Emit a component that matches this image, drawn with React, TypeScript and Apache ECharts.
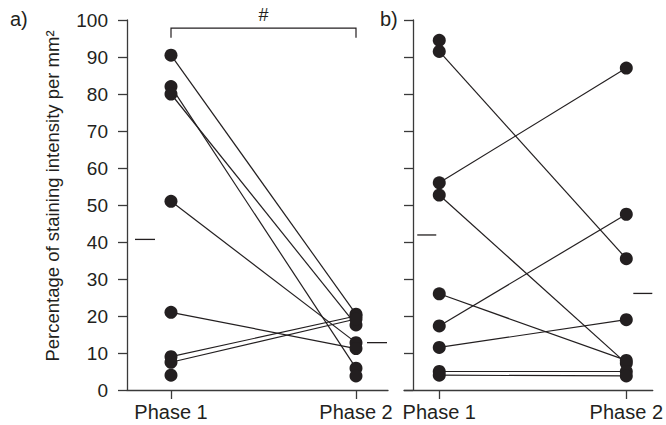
import React, { useEffect, useRef } from 'react';
import * as echarts from 'echarts';

// ---- data ----
const phases = ['Phase 1', 'Phase 2'];
// panel a) : values at Phase 1 and Phase 2 (null = no partner)
const aPhase1 = [90.5, 82, 80, 51, 21, 9, 7.5, 4, null];
const aPhase2 = [20.5, 5.9, 17.6, 12.8, 11.2, 20, 19.2, null, 3.8];
const aMeans = [40.7, 12.8];
// panel b)
const bPhase1 = [94.5, 91.5, 56, 52.7, 26, 17.3, 11.5, 5, 4];
const bPhase2 = [null, 35.5, 87, 7.2, 8.0, 47.5, 19, 5, 3.8];
const bMeans = [41.9, 26.1];
// significance bracket between phases in panel a
const bracketTop = 97.8;
const bracketFoot = 95.2;
const bracketLabel = '#';
const yTicks = { min: 0, max: 100, interval: 10 };
const yTitle = 'Percentage of staining intensity per mm²';

// ---- style ----
const INK = '#231f20';
const AXIS = '#3a3a3a';
const FONT = "'Liberation Sans', Arial, Helvetica, sans-serif";
const dashOffsets = [
  [[-36, -16], [11, 31]],
  [[-22, -3], [7, 26]],
];

function panelSeries(idx: number, p1: (number | null)[], p2: (number | null)[], means: number[]) {
  const series: any[] = [];
  for (let i = 0; i < p1.length; i++) {
    if (p1[i] != null && p2[i] != null) {
      series.push({
        type: 'line',
        xAxisIndex: idx,
        yAxisIndex: idx,
        data: [[1, p1[i]], [2, p2[i]]],
        symbol: 'none',
        silent: true,
        lineStyle: { color: INK, width: 1.2 },
        z: 2,
      });
    }
  }
  const pts: number[][] = [];
  p1.forEach((v) => v != null && pts.push([1, v]));
  p2.forEach((v) => v != null && pts.push([2, v]));
  series.push({
    type: 'scatter',
    xAxisIndex: idx,
    yAxisIndex: idx,
    data: pts,
    symbol: 'circle',
    symbolSize: 13,
    itemStyle: { color: INK, opacity: 1 },
    z: 3,
  });
  series.push({
    type: 'custom',
    xAxisIndex: idx,
    yAxisIndex: idx,
    clip: false,
    data: means.map((m, j) => [j + 1, m]),
    renderItem: (params: any, api: any) => {
      const p = api.coord([api.value(0), api.value(1)]);
      const off = dashOffsets[idx][params.dataIndex];
      return {
        type: 'line',
        shape: { x1: p[0] + off[0], y1: p[1], x2: p[0] + off[1], y2: p[1] },
        style: { stroke: INK, lineWidth: 1.3 },
      };
    },
    z: 2,
  });
  return series;
}

export default function App() {
  const ref = useRef<HTMLDivElement>(null);
  useEffect(() => {
    const chart = echarts.init(ref.current!, null, { renderer: 'svg' });
    const xAxisBase = (idx: number, min: number, max: number) => ({
      type: 'value',
      gridIndex: idx,
      min,
      max,
      splitLine: { show: false },
      axisLine: { show: true, onZero: false, lineStyle: { color: AXIS, width: 1.3 } },
      axisTick: { show: true, customValues: [1, 2], length: 9, lineStyle: { color: AXIS, width: 1.3 } },
      axisLabel: {
        customValues: [1, 2],
        formatter: (v: number) => phases[Math.round(v) - 1],
        color: '#231f20',
        fontSize: 20,
        fontFamily: FONT,
        margin: 12,
      },
    });
    const yAxisBase = (idx: number) => ({
      type: 'value',
      gridIndex: idx,
      min: yTicks.min,
      max: yTicks.max,
      interval: yTicks.interval,
      splitLine: { show: false },
      axisLine: { show: true, onZero: false, lineStyle: { color: AXIS, width: 1.3 } },
      axisTick: { show: true, length: 9, lineStyle: { color: AXIS, width: 1.3 } },
    });
    const option: any = {
      animation: false,
      textStyle: { fontFamily: FONT },
      grid: [
        { left: 127, right: 278, top: 20, bottom: 35 },
        { left: 404, right: 8, top: 20, bottom: 35 },
      ],
      xAxis: [xAxisBase(0, 1 - 44 / 185, 2 + 32 / 185), xAxisBase(1, 1 - 36 / 191, 2 + 27 / 191)],
      yAxis: [
        {
          ...yAxisBase(0),
          axisLabel: { color: '#231f20', fontSize: 19, fontFamily: FONT, margin: 19 },
        },
        { ...yAxisBase(1), offset: -9, axisLabel: { show: false } },
      ],
      graphic: [
        { type: 'text', left: 10, top: 9, style: { text: 'a)', fontSize: 20, fontFamily: FONT, fill: '#231f20' } },
        { type: 'text', left: 380, top: 9, style: { text: 'b)', fontSize: 20, fontFamily: FONT, fill: '#231f20' } },
        {
          type: 'text',
          x: 52,
          y: 196,
          rotation: Math.PI / 2,
          style: {
            text: yTitle,
            fontSize: 18.5,
            fontFamily: FONT,
            fill: '#231f20',
            align: 'center',
            verticalAlign: 'middle',
          },
        },
      ],
      series: [
        ...panelSeries(0, aPhase1, aPhase2, aMeans),
        ...panelSeries(1, bPhase1, bPhase2, bMeans),
        {
          type: 'custom',
          xAxisIndex: 0,
          yAxisIndex: 0,
          clip: false,
          data: [[1, 2, bracketTop, bracketFoot]],
          renderItem: (params: any, api: any) => {
            const a = api.coord([api.value(0), api.value(2)]);
            const b = api.coord([api.value(1), api.value(2)]);
            const foot = api.coord([api.value(0), api.value(3)])[1];
            return {
              type: 'group',
              children: [
                {
                  type: 'polyline',
                  shape: { points: [[a[0], foot], [a[0], a[1]], [b[0], b[1]], [b[0], foot]] },
                  style: { stroke: INK, lineWidth: 1.2, fill: 'none' },
                },
                {
                  type: 'text',
                  x: (a[0] + b[0]) / 2,
                  y: a[1] - 4,
                  style: {
                    text: bracketLabel,
                    fontSize: 18,
                    fontFamily: FONT,
                    fill: INK,
                    align: 'center',
                    verticalAlign: 'bottom',
                  },
                },
              ],
            };
          },
        },
      ],
    };
    chart.setOption(option);
    return () => chart.dispose();
  }, []);
  return <div ref={ref} style={{ position: 'absolute', left: 0, top: 0, width: 666, height: 425 }} />;
}
